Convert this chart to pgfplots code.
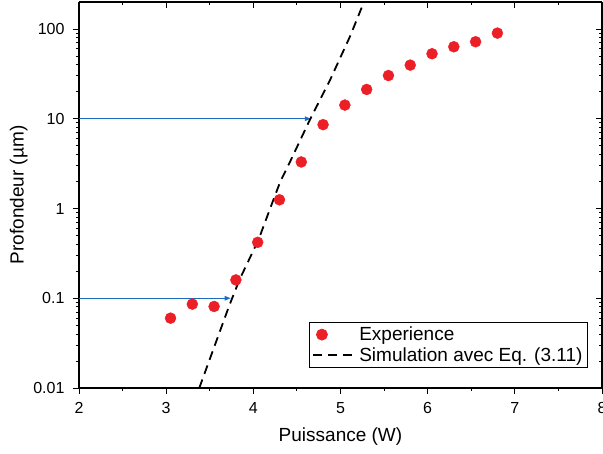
\documentclass[border=0pt]{standalone}
\usepackage{fontspec}
\setmainfont{Liberation Sans}
\usepackage{pgfplots}
\pgfplotsset{compat=1.18}
\usetikzlibrary{arrows.meta}
\definecolor{expred}{RGB}{236,30,38}
\definecolor{arrowblue}{RGB}{28,108,190}

\pgfplotsset{
  myframe/.style={
    scale only axis, width=523pt, height=386pt,
    at={(0pt,0pt)}, anchor=south west,
    xmin=2, xmax=8, ymin=0.01, ymax=200,
    xtick={2,...,8}, minor x tick num=1,
    ytick={0.01,0.1,1,10,100},
    major tick length=6pt, minor tick length=3pt,
    every tick/.style={black, line width=0.9pt},
    axis line style={black, line width=1.1pt},
    /pgf/number format/assume math mode=true,
    tick label style={font=\fontsize{16}{18}\selectfont},
  },
  dashlegend/.style={legend image code/.code={\draw[##1] (0pt,0pt) -- (43pt,0pt);}},
}

\begin{document}
\begin{tikzpicture}
\begin{axis}[ymode=log, myframe,
  yticklabels={0.01,0.1,1,10,100},
  axis x line*=bottom, axis y line*=left,
  tick align=outside,
  xticklabel style={yshift=-5pt},
  yticklabel style={xshift=-5pt},
  xlabel={Puissance (W)}, ylabel={Profondeur (µm)},
  label style={font=\fontsize{19}{22}\selectfont},
  xlabel style={yshift=-7pt},
  ylabel style={yshift=-1pt},
  legend cell align=left,
  legend style={at={(0.973,0.052)}, anchor=south east, draw=black, line width=0.8pt,
    font=\fontsize{19}{22}\selectfont, inner sep=3pt, row sep=1pt},
]
\addplot[arrowblue, line width=1.2pt, -{Triangle[length=6pt,width=4.5pt]}, forget plot]
  coordinates {(2,10) (4.66,10)};
\addplot[arrowblue, line width=1.2pt, -{Triangle[length=6pt,width=4.5pt]}, forget plot]
  coordinates {(2,0.1) (3.74,0.1)};
\addplot[only marks, mark=*, mark size=5.5pt, color=expred, mark options={draw=expred, fill=expred}]
  coordinates {
  (3.05,0.060) (3.30,0.086) (3.55,0.081) (3.80,0.16) (4.05,0.42)
  (4.30,1.25) (4.55,3.3) (4.80,8.6) (5.05,14.2) (5.30,21.2)
  (5.55,30.3) (5.80,39.6) (6.05,53) (6.30,63.4) (6.55,72.1) (6.80,90)
  };
\addlegendentry{Experience}
\addplot[black, line width=1.8pt, dash pattern=on 9pt off 6pt, dashlegend]
  coordinates {
  (3.38,0.01) (3.72,0.081) (3.84,0.16) (4.06,0.45) (4.23,1.25) (4.31,2.0)
  (4.42,3.3) (4.65,9.8) (4.88,27) (5.11,83) (5.25,180) (5.29,230)
  };
\addlegendentry{Simulation avec Eq. (3.11)}
\end{axis}
\begin{axis}[ymode=log, myframe,
  axis x line*=top, axis y line*=right,
  tick align=inside,
  xticklabels={}, yticklabels={},
]
\end{axis}
\pgfresetboundingbox
\path[use as bounding box] (-79pt,-66pt) rectangle (524pt,388pt);
\end{tikzpicture}
\end{document}
